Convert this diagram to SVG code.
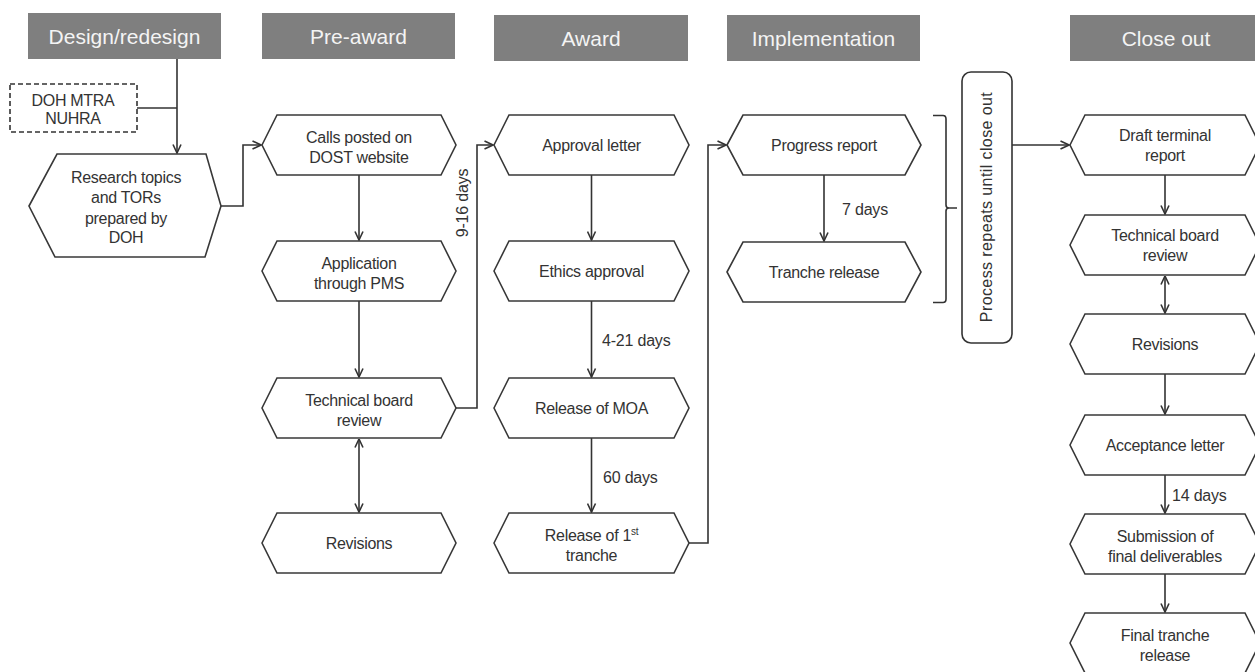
<svg xmlns="http://www.w3.org/2000/svg" width="1255" height="672" viewBox="0 0 1255 672">
<style>
.hdr{fill:#7f7f7f}
.ht{font-family:"Liberation Sans",Arial,sans-serif;font-size:21px;fill:#f4f4f4;text-anchor:middle}
.hex{fill:#fff;stroke:#383838;stroke-width:1.6}
.t{font-family:"Liberation Sans",Arial,sans-serif;font-size:16px;fill:#333;text-anchor:middle;letter-spacing:-0.3px}
.lbl{font-family:"Liberation Sans",Arial,sans-serif;font-size:16px;fill:#333;letter-spacing:-0.2px}
.c{fill:none;stroke:#333;stroke-width:1.6}
</style>
<defs>
<marker id="ah" viewBox="0 0 10 10" refX="9.5" refY="5" markerWidth="10" markerHeight="10" markerUnits="userSpaceOnUse" orient="auto-start-reverse">
<path d="M1,1 L9.5,5 L1,9" fill="none" stroke="#333" stroke-width="1.6"/>
</marker>
</defs>
<rect width="1255" height="672" fill="#fff"/>

<g id="headers">
<g id="h-design"><rect class="hdr" x="28" y="13" width="193" height="46"/><text class="ht" x="124.5" y="44">Design/redesign</text></g>
<g id="h-preaward"><rect class="hdr" x="262" y="13" width="193" height="46"/><text class="ht" x="358.5" y="44">Pre-award</text></g>
<g id="h-award"><rect class="hdr" x="494" y="15" width="194" height="46"/><text class="ht" x="591" y="46">Award</text></g>
<g id="h-impl"><rect class="hdr" x="727" y="15" width="193" height="46"/><text class="ht" x="823.5" y="46">Implementation</text></g>
<g id="h-close"><rect class="hdr" x="1070" y="15" width="193" height="46"/><text class="ht" x="1166" y="46">Close out</text></g>
</g>

<g id="connectors">
<path class="c" d="M177,59 V153" marker-end="url(#ah)"/>
<path class="c" d="M137,108 H177"/>
<path class="c" d="M221,206 H243 V145 H261" marker-end="url(#ah)"/>
<path class="c" d="M359,175 V240" marker-end="url(#ah)"/>
<path class="c" d="M359,301 V377" marker-end="url(#ah)"/>
<path class="c" d="M359,439 V512" marker-start="url(#ah)" marker-end="url(#ah)"/>
<path class="c" d="M456,408 H477 V145 H493" marker-end="url(#ah)"/>
<path class="c" d="M591.5,175 V240" marker-end="url(#ah)"/>
<path class="c" d="M591.5,301 V377" marker-end="url(#ah)"/>
<path class="c" d="M591.5,438 V512" marker-end="url(#ah)"/>
<path class="c" d="M689,543 H708 V145 H726" marker-end="url(#ah)"/>
<path class="c" d="M824,175 V241" marker-end="url(#ah)"/>
<path class="c" d="M933,115.5 H943 Q946,115.5 946,119 V205 Q946,208 949,208 H957 M949,208 Q946,208 946,211 V299 Q946,302.5 943,302.5 H933"/>
<path class="c" d="M1012,145 H1069" marker-end="url(#ah)"/>
<path class="c" d="M1165,175 V214" marker-end="url(#ah)"/>
<path class="c" d="M1165,276 V313" marker-start="url(#ah)" marker-end="url(#ah)"/>
<path class="c" d="M1165,374 V414" marker-end="url(#ah)"/>
<path class="c" d="M1165,475 V513" marker-end="url(#ah)"/>
<path class="c" d="M1165,574 V612" marker-end="url(#ah)"/>
<text class="lbl" transform="translate(468,203) rotate(-90)" text-anchor="middle">9-16 days</text>
<text class="lbl" x="602" y="346">4-21 days</text>
<text class="lbl" x="603" y="483">60 days</text>
<text class="lbl" x="842" y="215">7 days</text>
<text class="lbl" x="1172" y="501">14 days</text>
</g>

<g id="n-doh">
<rect x="10" y="84" width="127" height="48" fill="#fff" stroke="#333" stroke-width="1.6" stroke-dasharray="5,3"/>
<text class="t" x="73" y="106">DOH MTRA</text>
<text class="t" x="73" y="124">NUHRA</text>
</g>
<g id="n-research">
<polygon class="hex" points="29,206 57,154 206,154 221,206 205,257 55,257"/>
<text class="t" x="126" y="183">Research topics</text>
<text class="t" x="126" y="203">and TORs</text>
<text class="t" x="126" y="224">prepared by</text>
<text class="t" x="126" y="243">DOH</text>
</g>

<g id="n-calls">
<polygon class="hex" points="262,145 277,115 441,115 456,145 441,175 277,175"/>
<text class="t" x="359" y="143">Calls posted on</text>
<text class="t" x="359" y="163">DOST website</text>
</g>
<g id="n-application">
<polygon class="hex" points="262,271 277,241 441,241 456,271 441,301 277,301"/>
<text class="t" x="359" y="269">Application</text>
<text class="t" x="359" y="289">through PMS</text>
</g>
<g id="n-tbr1">
<polygon class="hex" points="262,408 277,378 441,378 456,408 441,438 277,438"/>
<text class="t" x="359" y="406">Technical board</text>
<text class="t" x="359" y="426">review</text>
</g>
<g id="n-rev1">
<polygon class="hex" points="262,543 277,513 441,513 456,543 441,573 277,573"/>
<text class="t" x="359" y="549">Revisions</text>
</g>

<g id="n-approval">
<polygon class="hex" points="494,145 509,115 674,115 689,145 674,175 509,175"/>
<text class="t" x="591.5" y="151">Approval letter</text>
</g>
<g id="n-ethics">
<polygon class="hex" points="494,271 509,241 674,241 689,271 674,301 509,301"/>
<text class="t" x="591.5" y="277">Ethics approval</text>
</g>
<g id="n-moa">
<polygon class="hex" points="494,408 509,378 674,378 689,408 674,438 509,438"/>
<text class="t" x="591.5" y="414">Release of MOA</text>
</g>
<g id="n-tranche1">
<polygon class="hex" points="494,543 509,513 674,513 689,543 674,573 509,573"/>
<text class="t" x="591.5" y="541">Release of 1<tspan font-size="10" dy="-6">st</tspan></text>
<text class="t" x="591.5" y="561">tranche</text>
</g>

<g id="n-progress">
<polygon class="hex" points="727,145 743,115 905,115 921,145 905,175 743,175"/>
<text class="t" x="824" y="151">Progress report</text>
</g>
<g id="n-tranche">
<polygon class="hex" points="727,272 743,242 905,242 921,272 905,302 743,302"/>
<text class="t" x="824" y="278">Tranche release</text>
</g>

<g id="n-repeat">
<rect x="962" y="72" width="50" height="271" rx="9" fill="#fff" stroke="#333" stroke-width="1.6"/>
<text class="t" transform="translate(992,207) rotate(-90)" style="letter-spacing:0.4px">Process repeats until close out</text>
</g>

<g id="n-draft">
<polygon class="hex" points="1070,145 1085,115 1245,115 1260,145 1245,175 1085,175"/>
<text class="t" x="1165" y="141">Draft terminal</text>
<text class="t" x="1165" y="161">report</text>
</g>
<g id="n-tbr2">
<polygon class="hex" points="1070,245 1085,215 1245,215 1260,245 1245,275 1085,275"/>
<text class="t" x="1165" y="241">Technical board</text>
<text class="t" x="1165" y="261">review</text>
</g>
<g id="n-rev2">
<polygon class="hex" points="1070,344 1085,314 1245,314 1260,344 1245,374 1085,374"/>
<text class="t" x="1165" y="350">Revisions</text>
</g>
<g id="n-accept">
<polygon class="hex" points="1070,445 1085,415 1245,415 1260,445 1245,475 1085,475"/>
<text class="t" x="1165" y="451">Acceptance letter</text>
</g>
<g id="n-submission">
<polygon class="hex" points="1070,544 1085,514 1245,514 1260,544 1245,574 1085,574"/>
<text class="t" x="1165" y="542">Submission of</text>
<text class="t" x="1165" y="562">final deliverables</text>
</g>
<g id="n-final">
<polygon class="hex" points="1070,643 1085,613 1245,613 1260,643 1245,673 1085,673"/>
<text class="t" x="1165" y="641">Final tranche</text>
<text class="t" x="1165" y="661">release</text>
</g>
</svg>
